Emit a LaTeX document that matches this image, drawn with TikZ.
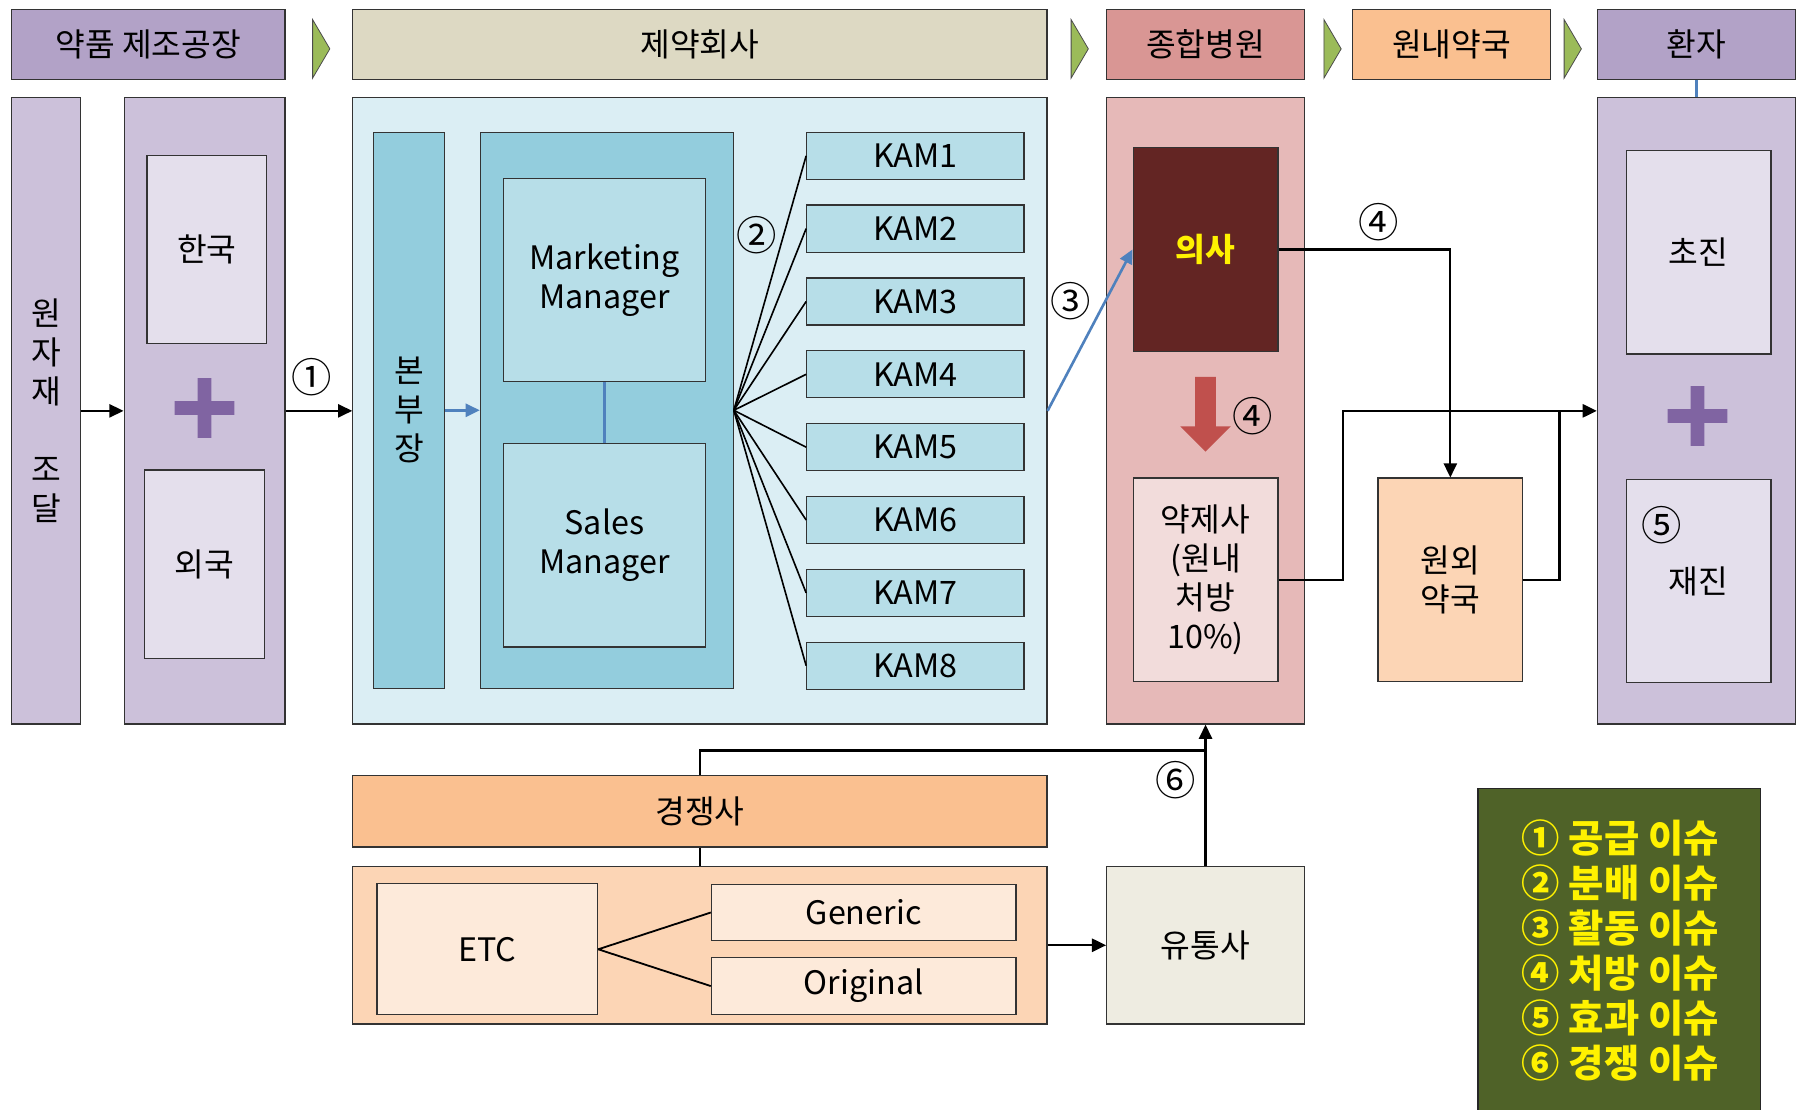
\documentclass[tikz,border=0pt]{standalone}
\usepackage{fontspec}
\usetikzlibrary{arrows.meta}
\setmainfont{Noto Sans CJK KR}
\definecolor{hpurple}{HTML}{B2A2C7}
\definecolor{bpurple}{HTML}{CCC1DA}
\definecolor{lpurple}{HTML}{E4DFEC}
\definecolor{pluscol}{HTML}{8064A2}
\definecolor{htan}{HTML}{DDD9C3}
\definecolor{hred}{HTML}{D99694}
\definecolor{bred}{HTML}{E6B9B8}
\definecolor{dred}{HTML}{632523}
\definecolor{pred}{HTML}{F2DCDB}
\definecolor{redarrow}{HTML}{C0504D}
\definecolor{horange}{HTML}{FAC090}
\definecolor{lorange}{HTML}{FCD5B5}
\definecolor{porange}{HTML}{FDEADA}
\definecolor{bblue}{HTML}{DBEEF4}
\definecolor{mblue}{HTML}{93CDDD}
\definecolor{lblue}{HTML}{B7DEE8}
\definecolor{arrowblue}{HTML}{4F81BD}
\definecolor{dgray}{HTML}{EEECE1}
\definecolor{lgreen}{HTML}{4F6228}
\definecolor{tgreen}{HTML}{9BBB59}
\begin{document}
\begin{tikzpicture}[>={Triangle[length=7pt,width=6.5pt]},x=0.02cm,y=-0.02cm,every node/.style={font=\fontsize{16}{19.3}\selectfont},
	box/.style={draw=black!80,line width=0.6pt,inner sep=0pt,align=center},
	sz/.style 2 args={minimum width=#1*0.02cm,minimum height=#2*0.02cm},
	num/.style={font=\fontsize{20}{20}\selectfont,inner sep=0pt},
	link/.style={line width=1.1pt},
	bluelink/.style={line width=1.3pt,draw=arrowblue},
	kam/.style={box,sz={189}{41},fill=lblue}]
	\useasboundingbox (0,0) rectangle (1568,965);
	\node[box,sz={238}{61},fill=hpurple] (hfac) at (129,38.5) {약품 제조공장};
	\node[box,sz={604}{61},fill=htan] (hpha) at (609,38.5) {제약회사};
	\node[box,sz={172}{61},fill=hred] (hhos) at (1049,38.5) {종합병원};
	\node[box,sz={172}{61},fill=horange] (hinp) at (1263,38.5) {원내약국};
	\node[box,sz={172}{61},fill=hpurple] (hpat) at (1476,38.5) {환자};
	\foreach \tx in {272,932,1152,1361}
		\filldraw[fill=tgreen,draw=black!70,line width=0.4pt] (\tx,17) -- (\tx+15,42.5) -- (\tx,68) -- cycle;
	
	\node[box,sz={60}{545},fill=bpurple] (raw) at (40,357.5) {원\\자\\재\\~\\조\\달};
	\node[box,sz={140}{545},fill=bpurple] (nat) at (178,357.5) {};
	\node[box,sz={104}{164},fill=lpurple] (kor) at (180,217) {한국};
	\fill[pluscol] (152,349) rectangle (204,361) (172,329) rectangle (184,381);
	\node[box,sz={104}{164},fill=lpurple] (for) at (178,491) {외국};
	
	\node[box,sz={604}{545},fill=bblue] (pha) at (609,357.5) {};
	\node[box,sz={62}{484},fill=mblue] (hq) at (356,357) {본\\부\\장};
	\node[box,sz={220}{484},fill=mblue] (mgr) at (528,357) {};
	\node[box,sz={176}{177},fill=lblue] (mkt) at (526,243.5) {Marketing\\Manager};
	\node[box,sz={176}{177},fill=lblue] (sal) at (526,474.5) {Sales\\Manager};
	\foreach \i in {1,...,8}{
		\node[kam] (kam\i) at (796.5,{135.5+63.4*(\i-1)}) {KAM\i};
		\draw[line width=0.8pt] (mgr.east) -- (kam\i.west);
	}
	
	\node[box,sz={172}{545},fill=bred] (hos) at (1049,357.5) {};
	\node[box,sz={126}{178},fill=dred,text=yellow,font=\fontsize{16}{19.3}\selectfont\bfseries] (doc) at (1049,217) {의사};
	\fill[redarrow] (1040,328) -- (1058,328) -- (1058,371) -- (1071,371) -- (1049,393) -- (1027,371) -- (1040,371) -- cycle;
	\node[box,sz={126}{177},fill=pred] (phm) at (1049,504.5) {약제사\\(원내\\처방\\10\%)};
	\node[box,sz={126}{177},fill=lorange] (out) at (1262,504.5) {원외\\약국};
	
	\node[box,sz={172}{545},fill=bpurple] (pat) at (1476,357.5) {};
	\node[box,sz={126}{177},fill=lpurple] (fst) at (1478,219.5) {초진};
	\fill[pluscol] (1451,356) rectangle (1503,368) (1471,336) rectangle (1483,388);
	\node[box,sz={126}{177},fill=lpurple] (rev) at (1478,505.5) {재진};
	
	\node[box,sz={604}{62},fill=horange] (rhd) at (609,706) {경쟁사};
	\node[box,sz={604}{137},fill=lorange] (rbd) at (609,822.5) {};
	\node[box,sz={192}{114},fill=porange] (etc) at (424,826) {ETC};
	\node[box,sz={265}{49},fill=porange] (gen) at (751.5,794) {Generic};
	\node[box,sz={265}{50},fill=porange] (org) at (751.5,858) {\raisebox{-2pt}{Original}};
	\node[box,sz={172}{137},fill=dgray] (dst) at (1049,822.5) {유통사};
	
	\node[box,draw=black!85,line width=0.8pt,fill=lgreen,sz={246}{290}] (leg) at (1409,831) {};
	\node[text=yellow,font=\fontsize{19}{22.2}\selectfont\bfseries,align=left] (legtxt) at (1410,827) {① 공급 이슈\\② 분배 이슈\\③ 활동 이슈\\④ 처방 이슈\\⑤ 효과 이슈\\⑥ 경쟁 이슈};
	
	\draw[link,->] (raw.east) -- (nat.west);
	\draw[link,->] (nat.east) -- (pha.west);
	\node[num] (n1) at (271,328) {①};
	\draw[bluelink,->] (hq.east) -- (mgr.west);
	\draw[bluelink] (mkt.south) -- (sal.north);
	\node[num] (n2) at (658,205) {②};
	\draw[bluelink,->] (pha.east) -- (doc.west);
	\node[num] (n3) at (932,262) {③};
	\draw[link,->] (doc.east) -| (out.north);
	\node[num] (n4a) at (1200,193) {④};
	\node[num] (n4b) at (1090,362) {④};
	\draw[link,->] (phm.east) -- ++(56,0) |- (pat.west);
	\coordinate (jp) at (1357,357.5);
	\draw[link] (out.east) -| (jp);
	\draw[bluelink] (hpat.south) -- (pat.north);
	\node[num] (n5) at (1446,457) {⑤};
	\draw[link] (rhd.south) -- (rbd.north);
	\draw[line width=0.9pt] (etc.east) -- (gen.west) (etc.east) -- (org.west);
	\draw[link,->] (rbd.east) -- (dst.west);
	\coordinate (j6) at (1049,653);
	\draw[link] (rhd.north) |- (j6);
	\draw[link,->] (dst.north) -- (hos.south);
	\node[num] (n6) at (1023,679) {⑥};
\end{tikzpicture}
\end{document}
